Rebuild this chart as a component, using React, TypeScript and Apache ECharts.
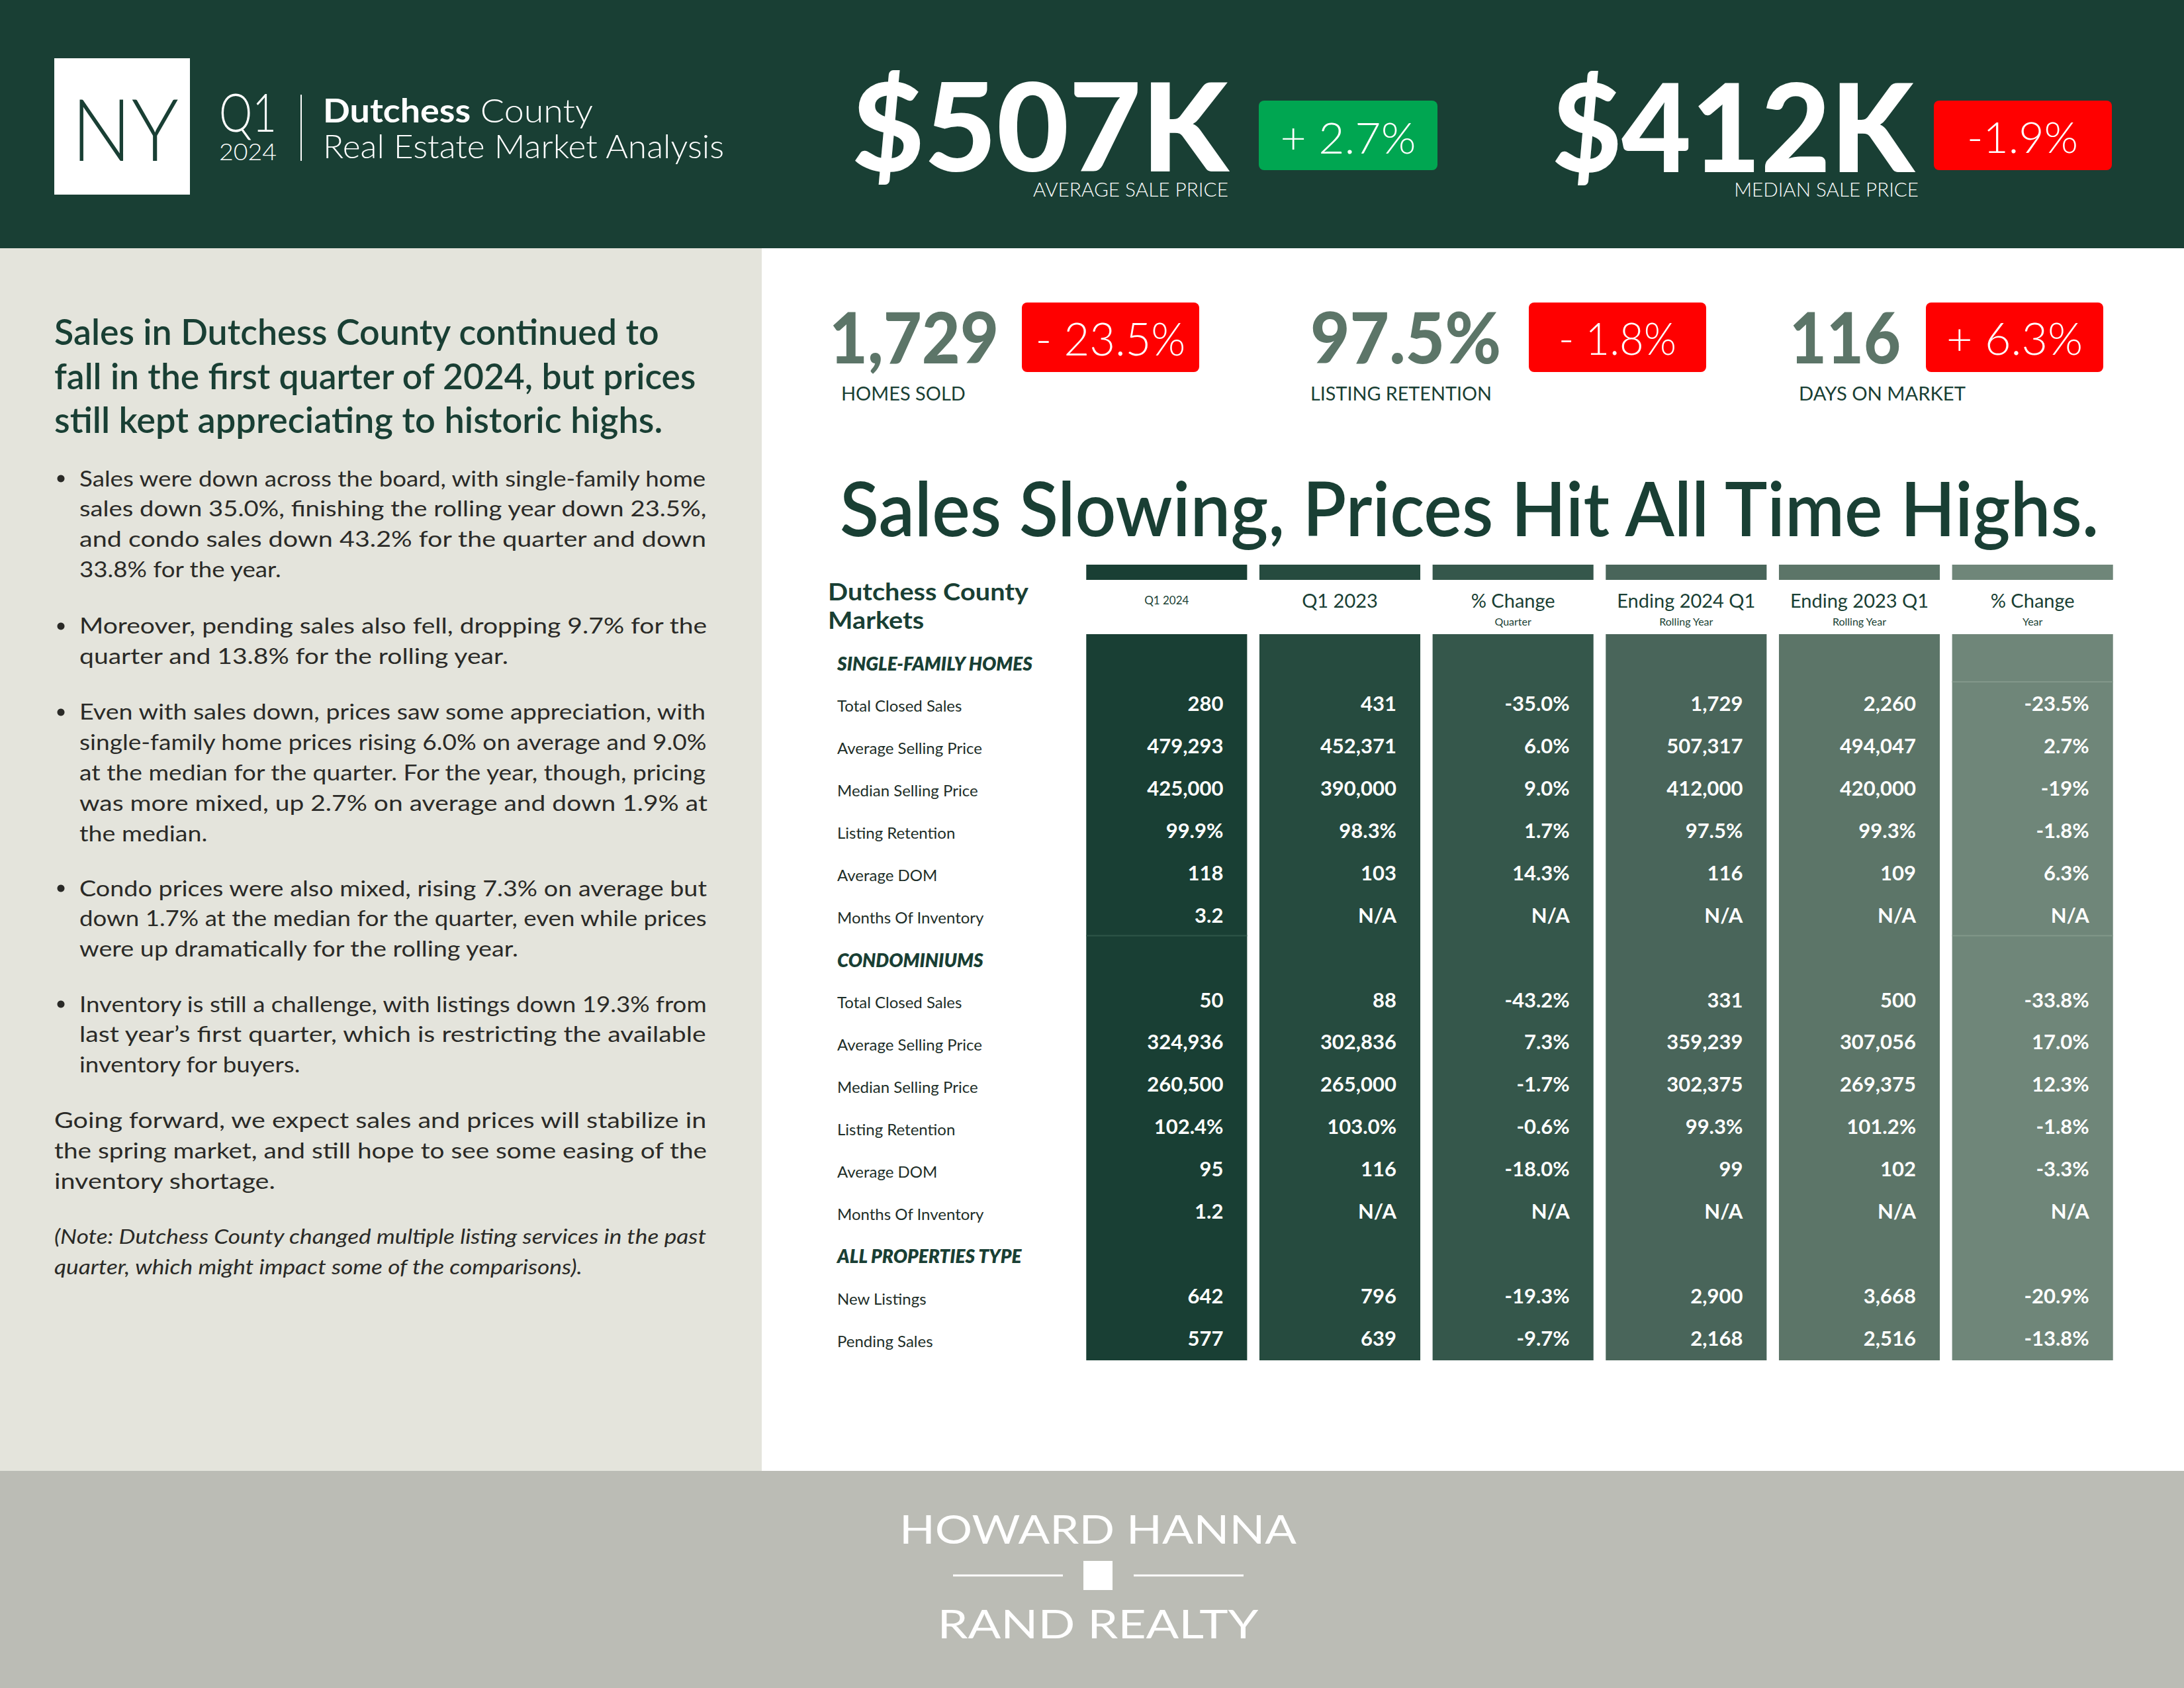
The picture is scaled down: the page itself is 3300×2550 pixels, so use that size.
import React, { useEffect, useRef } from "react";
import * as echarts from "echarts";

const FONT = "Lato";
const DARK = "#193f34";
const BODY = "#2a2a27";
const KPI_GRAY = "#5c7568";
const RED = "#ff0000";
const GREEN = "#00a651";

// ---- table data ----
const rowLabels = [
  "SINGLE-FAMILY HOMES",
  "Total Closed Sales",
  "Average Selling Price",
  "Median Selling Price",
  "Listing Retention",
  "Average DOM",
  "Months Of Inventory",
  "CONDOMINIUMS",
  "Total Closed Sales",
  "Average Selling Price",
  "Median Selling Price",
  "Listing Retention",
  "Average DOM",
  "Months Of Inventory",
  "ALL PROPERTIES TYPE",
  "New Listings",
  "Pending Sales",
];
const sectionRows = [0, 7, 14];

const columnTitles = ["Q1 2024", "Q1 2023", "% Change", "Ending 2024 Q1", "Ending 2023 Q1", "% Change"];
const columnSubtitles = ["", "", "Quarter", "Rolling Year", "Rolling Year", "Year"];
const columnColors = ["#193f34", "#264b3f", "#35574b", "#49655a", "#5c7568", "#6f8679"];
const columnRuleColors = ["#2f5648", "", "", "", "", "#82978a"];
// rows below which a faint cell rule shows, per column
const columnRules = [[6], [], [], [], [], [0, 6]];

const q1_2024 = ["", "280", "479,293", "425,000", "99.9%", "118", "3.2", "", "50", "324,936", "260,500", "102.4%", "95", "1.2", "", "642", "577"];
const q1_2023 = ["", "431", "452,371", "390,000", "98.3%", "103", "N/A", "", "88", "302,836", "265,000", "103.0%", "116", "N/A", "", "796", "639"];
const changeQuarter = ["", "-35.0%", "6.0%", "9.0%", "1.7%", "14.3%", "N/A", "", "-43.2%", "7.3%", "-1.7%", "-0.6%", "-18.0%", "N/A", "", "-19.3%", "-9.7%"];
const ending2024 = ["", "1,729", "507,317", "412,000", "97.5%", "116", "N/A", "", "331", "359,239", "302,375", "99.3%", "99", "N/A", "", "2,900", "2,168"];
const ending2023 = ["", "2,260", "494,047", "420,000", "99.3%", "109", "N/A", "", "500", "307,056", "269,375", "101.2%", "102", "N/A", "", "3,668", "2,516"];
const changeYear = ["", "-23.5%", "2.7%", "-19%", "-1.8%", "6.3%", "N/A", "", "-33.8%", "17.0%", "12.3%", "-1.8%", "-3.3%", "N/A", "", "-20.9%", "-13.8%"];
const columnValues = [q1_2024, q1_2023, changeQuarter, ending2024, ending2023, changeYear];

// ---- headline KPIs ----
const avgSalePrice = "$507K";
const avgSaleChange = "+ 2.7%";
const medianSalePrice = "$412K";
const medianSaleChange = "-1.9%";
const kpiValues = ["1,729", "97.5%", "116"];
const kpiChanges = ["- 23.5%", "- 1.8%", "+ 6.3%"];
const kpiLabels = ["HOMES SOLD", "LISTING RETENTION", "DAYS ON MARKET"];

// ---- left panel text ----
const headlineLines = [
  "Sales in Dutchess County continued to",
  "fall in the first quarter of 2024, but prices",
  "still kept appreciating to historic highs.",
];
const bullets = [
  [
    "Sales were down across the board, with single-family home",
    "sales down 35.0%, finishing the rolling year down 23.5%,",
    "and condo sales down 43.2% for the quarter and down",
    "33.8% for the year.",
  ],
  ["Moreover, pending sales also fell, dropping 9.7% for the", "quarter and 13.8% for the rolling year."],
  [
    "Even with sales down, prices saw some appreciation, with",
    "single-family home prices rising 6.0% on average and 9.0%",
    "at the median for the quarter. For the year, though, pricing",
    "was more mixed, up 2.7% on average and down 1.9% at",
    "the median.",
  ],
  [
    "Condo prices were also mixed, rising 7.3% on average but",
    "down 1.7% at the median for the quarter, even while prices",
    "were up dramatically for the rolling year.",
  ],
  [
    "Inventory is still a challenge, with listings down 19.3% from",
    "last year’s first quarter, which is restricting the available",
    "inventory for buyers.",
  ],
];
const bulletTops = [722, 945, 1075, 1341, 1516];
const closingLines = [
  "Going forward, we expect sales and prices will stabilize in",
  "the spring market, and still hope to see some easing of the",
  "inventory shortage.",
];
const noteLines = [
  "(Note: Dutchess County changed multiple listing services in the past",
  "quarter, which might impact some of the comparisons).",
];

let _ctx: CanvasRenderingContext2D | null = null;
function measureW(text: string, size: number, weight: number | string, italic = false) {
  if (!_ctx) _ctx = document.createElement("canvas").getContext("2d");
  _ctx!.font = `${italic ? "italic " : ""}${weight} ${size}px ${FONT}`;
  return _ctx!.measureText(text).width;
}

type TO = {
  size: number;
  weight?: number;
  color: string;
  align?: string;
  width?: number;
  scale?: number;
  italic?: boolean;
};
function T(text: string, x: number, y: number, o: TO): any {
  const weight = o.weight ?? 400;
  let sx = o.scale ?? 1;
  if (o.width) sx = o.width / measureW(text, o.size, weight, !!o.italic);
  return {
    type: "text",
    x,
    y,
    scaleX: sx,
    silent: true,
    style: {
      text,
      x: 0,
      y: 0,
      fill: o.color,
      fontSize: o.size,
      fontWeight: weight,
      fontStyle: o.italic ? "italic" : "normal",
      fontFamily: FONT,
      align: o.align ?? "left",
      verticalAlign: "middle",
    },
  };
}

function paragraph(lines: string[], x: number, y0: number, width: number, size: number, o: { italic?: boolean; lh: number }) {
  const els: any[] = [];
  const baseScale = width / measureW(lines[0], size, 400, !!o.italic);
  lines.forEach((ln, i) => {
    const last = i === lines.length - 1;
    els.push(
      T(ln, x, y0 + i * o.lh, {
        size,
        color: BODY,
        italic: o.italic,
        width: last ? undefined : width,
        scale: last ? baseScale : undefined,
      })
    );
  });
  return els;
}

function buildGraphic() {
  const g: any[] = [];
  // backgrounds
  g.push({ type: "rect", shape: { x: 0, y: 0, width: 3300, height: 375 }, style: { fill: DARK }, silent: true });
  g.push({ type: "rect", shape: { x: 0, y: 375, width: 1151, height: 1847 }, style: { fill: "#e4e4dc" }, silent: true });
  g.push({ type: "rect", shape: { x: 0, y: 2222, width: 3300, height: 328 }, style: { fill: "#bbbcb5" }, silent: true });

  // header logo block
  g.push({ type: "rect", shape: { x: 82, y: 88, width: 205, height: 206 }, style: { fill: "#ffffff" }, silent: true });
  g.push(T("NY", 108, 193, { size: 130, weight: 300, color: DARK, width: 162 }));
  g.push(T("Q1", 331, 168, { size: 80, weight: 300, color: "#ffffff", width: 87 }));
  g.push(T("2024", 331, 228, { size: 36, weight: 300, color: "#ffffff", width: 87 }));
  g.push({ type: "line", shape: { x1: 455, y1: 143, x2: 455, y2: 243 }, style: { stroke: "#ffffff", lineWidth: 2 }, silent: true });
  const dcW = measureW("Dutchess", 50, 700) + measureW(" County", 50, 300);
  g.push({
    type: "text",
    x: 488,
    y: 166,
    scaleX: 408 / dcW,
    silent: true,
    style: {
      text: "{b|Dutchess}{l| County}",
      x: 0,
      y: 0,
      align: "left",
      verticalAlign: "middle",
      fill: "#ffffff",
      rich: {
        b: { fontSize: 50, fontWeight: 700, fontFamily: FONT, fill: "#ffffff" },
        l: { fontSize: 50, fontWeight: 300, fontFamily: FONT, fill: "#ffffff" },
      },
    },
  });
  g.push(T("Real Estate Market Analysis", 488, 220, { size: 50, weight: 300, color: "#ffffff", width: 608 }));

  // big prices
  g.push(T(avgSalePrice, 1287, 188, { size: 185, weight: 900, color: "#ffffff", width: 569 }));
  g.push({ type: "rect", shape: { x: 1902, y: 152, width: 270, height: 105, r: 8 }, style: { fill: GREEN }, silent: true });
  g.push(T(avgSaleChange, 2037, 206, { size: 66, weight: 300, color: "#ffffff", align: "center", width: 205 }));
  g.push(T("AVERAGE SALE PRICE", 1856, 285, { size: 30, weight: 300, color: "#ffffff", align: "right", width: 295 }));
  g.push(T(medianSalePrice, 2345, 188, { size: 185, weight: 900, color: "#ffffff", width: 547 }));
  g.push({ type: "rect", shape: { x: 2922, y: 152, width: 269, height: 105, r: 8 }, style: { fill: RED }, silent: true });
  g.push(T(medianSaleChange, 3056, 206, { size: 66, weight: 300, color: "#ffffff", align: "center", width: 168 }));
  g.push(T("MEDIAN SALE PRICE", 2899, 285, { size: 30, weight: 300, color: "#ffffff", align: "right", width: 279 }));

  // KPI row
  const kpiX = [1253, 1980, 2704];
  const kpiW = [256, 288, 168];
  const badgeX = [1544, 2310, 2910];
  const badgeTextW = [227, 178, 206];
  const labelX = [1271, 1980, 2718];
  const labelW = [188, 274, 252];
  for (let i = 0; i < 3; i++) {
    g.push(T(kpiValues[i], kpiX[i], 508, { size: 106, weight: 900, color: KPI_GRAY, width: kpiW[i] }));
    g.push({ type: "rect", shape: { x: badgeX[i], y: 457, width: 268, height: 105, r: 8 }, style: { fill: RED }, silent: true });
    g.push(T(kpiChanges[i], badgeX[i] + 134, 510, { size: 68, weight: 300, color: "#ffffff", align: "center", width: badgeTextW[i] }));
    g.push(T(kpiLabels[i], labelX[i], 594, { size: 28, weight: 400, color: DARK, width: labelW[i] }));
  }

  // big title
  g.push(T("Sales Slowing, Prices Hit All Time Highs.", 1269, 766, { size: 114, weight: 600, color: DARK, width: 1909 }));

  // table title
  const ttScale = 303 / measureW("Dutchess County", 37, 700);
  g.push(T("Dutchess County", 1251, 893, { size: 37, weight: 700, color: DARK, scale: ttScale }));
  g.push(T("Markets", 1251, 936, { size: 37, weight: 700, color: DARK, scale: ttScale }));

  // left panel headline
  const hlW = [915, 972, 919];
  const hlY = [500, 567, 633];
  headlineLines.forEach((ln, i) => g.push(T(ln, 82, hlY[i], { size: 53, weight: 600, color: DARK, width: hlW[i] })));

  // bullets
  bullets.forEach((lines, i) => {
    g.push({ type: "circle", shape: { cx: 92, cy: bulletTops[i] + 1, r: 5.5 }, style: { fill: BODY }, silent: true });
    g.push(...paragraph(lines, 120, bulletTops[i], 949, 32, { lh: 45.8 }));
  });
  g.push(...paragraph(closingLines, 82, 1692, 987, 32, { lh: 45.8 }));
  g.push(...paragraph(noteLines, 82, 1868, 986, 30, { lh: 46, italic: true }));

  // footer logo
  g.push(T("HOWARD HANNA", 1659, 2309, { size: 60, weight: 400, color: "#ffffff", align: "center", width: 600 }));
  g.push({ type: "line", shape: { x1: 1440, y1: 2380, x2: 1606, y2: 2380 }, style: { stroke: "#ffffff", lineWidth: 3 }, silent: true });
  g.push({ type: "line", shape: { x1: 1713, y1: 2380, x2: 1879, y2: 2380 }, style: { stroke: "#ffffff", lineWidth: 3 }, silent: true });
  g.push({ type: "rect", shape: { x: 1637, y: 2358, width: 44, height: 44 }, style: { fill: "#ffffff" }, silent: true });
  g.push(T("RAND REALTY", 1659, 2452, { size: 60, weight: 400, color: "#ffffff", align: "center", width: 485 }));
  return g;
}

function renderCell(params: any, api: any) {
  const c = api.value(0) as number;
  const cs = params.coordSys;
  const cx = api.coord([c, 0])[0];
  const band = api.size([1, 0])[0];
  const rowH = cs.height / rowLabels.length;
  const w = band * 0.929;
  const left = cx - w / 2;
  const color = columnColors[c];
  const children: any[] = [
    { type: "rect", shape: { x: left, y: cs.y - 117, width: w, height: 23 }, style: { fill: color } },
    { type: "rect", shape: { x: left, y: cs.y - 12, width: w, height: cs.height + 10 }, style: { fill: color } },
    {
      type: "text",
      style: {
        text: columnTitles[c],
        x: cx,
        y: cs.y - 64,
        fill: DARK,
        fontSize: c === 0 ? 17 : 29,
        fontWeight: 400,
        fontFamily: FONT,
        align: "center",
        verticalAlign: "middle",
      },
    },
  ];
  columnRules[c].forEach((r) => {
    const yr = api.coord([c, r])[1] + rowH / 2 - 5;
    children.push({
      type: "rect",
      shape: { x: left, y: yr, width: w, height: 2 },
      style: { fill: columnRuleColors[c] },
    });
  });
  if (columnSubtitles[c]) {
    children.push({
      type: "text",
      style: {
        text: columnSubtitles[c],
        x: cx,
        y: cs.y - 32,
        fill: DARK,
        fontSize: 16,
        fontFamily: FONT,
        align: "center",
        verticalAlign: "middle",
      },
    });
  }
  const vals = columnValues[c];
  vals.forEach((v, r) => {
    if (!v) return;
    const y = api.coord([c, r])[1];
    children.push({
      type: "text",
      style: {
        text: v,
        x: left + w - 36,
        y: y - 4,
        fill: "#ffffff",
        fontSize: 31,
        fontWeight: 700,
        fontFamily: FONT,
        align: "right",
        verticalAlign: "middle",
      },
    });
  });
  return { type: "group", children };
}

export default function App() {
  const ref = useRef<HTMLDivElement>(null);
  useEffect(() => {
    document.body.style.margin = "0";
    const chart = echarts.init(ref.current!, undefined, { renderer: "svg" });
    const option: any = {
      animation: false,
      backgroundColor: "#ffffff",
      grid: { left: 1632, top: 970, width: 1570, height: 1087, containLabel: false },
      xAxis: { type: "category", data: columnTitles.map((_, i) => String(i)), show: false },
      yAxis: {
        type: "category",
        inverse: true,
        data: rowLabels.map((_, i) => String(i)),
        axisLine: { show: false },
        axisTick: { show: false },
        splitLine: { show: false },
        axisLabel: {
          align: "left",
          margin: 367,
          interval: 0,
          formatter: (_v: string, i: number) =>
            sectionRows.includes(i) ? `{h|${rowLabels[i]}}` : `{r|${rowLabels[i]}}`,
          rich: {
            h: { fontFamily: FONT, fontSize: 28, fontWeight: 800, fontStyle: "italic", color: DARK },
            r: { fontFamily: FONT, fontSize: 24, fontWeight: 400, color: "#1d2e28" },
          },
        },
      },
      series: [
        {
          type: "custom",
          renderItem: renderCell,
          data: columnTitles.map((_, i) => [i, 0]),
          encode: { x: 0, y: 1 },
          z: 2,
        },
      ],
      graphic: { elements: buildGraphic() },
    };
    chart.setOption(option);
    return () => chart.dispose();
  }, []);
  return <div ref={ref} style={{ position: "absolute", left: 0, top: 0, width: 3300, height: 2550 }} />;
}
